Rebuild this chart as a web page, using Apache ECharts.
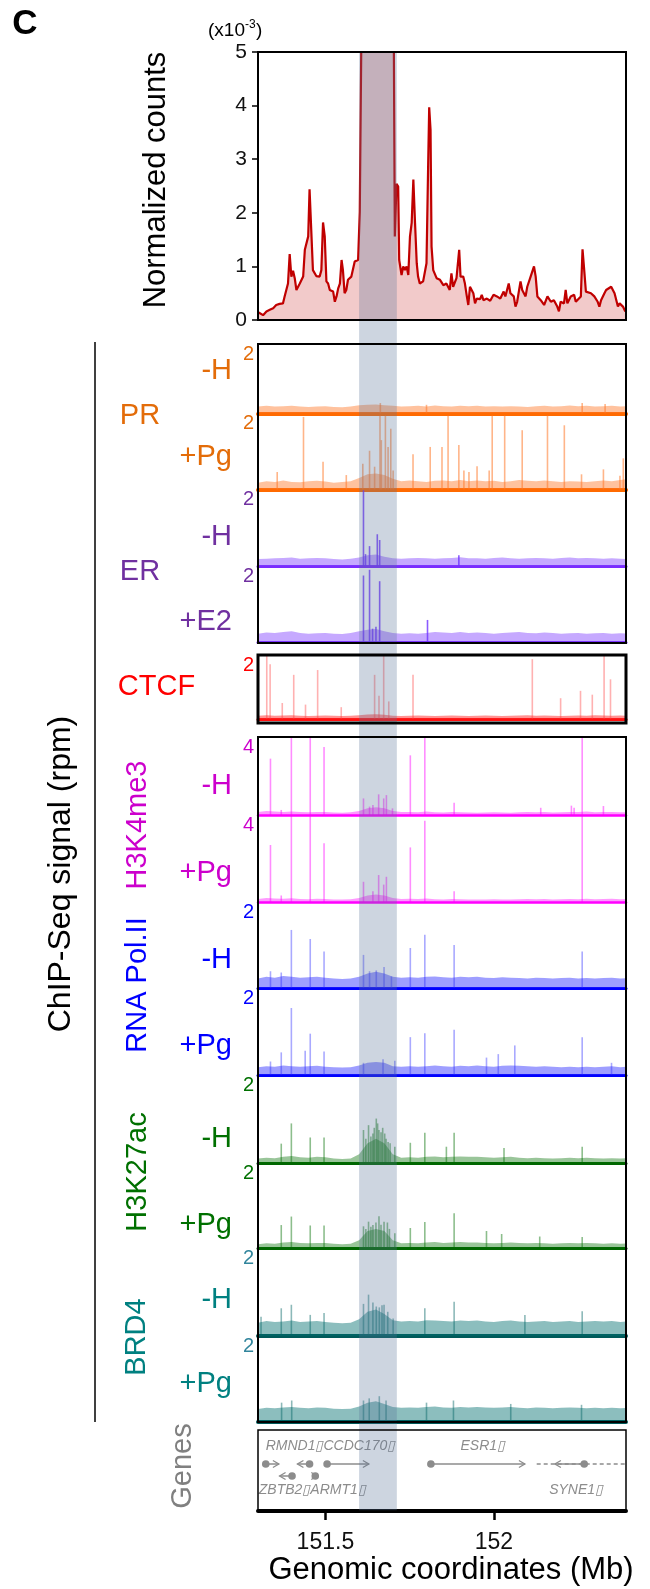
<!DOCTYPE html>
<html><head><meta charset="utf-8">
<script src="https://cdn.jsdelivr.net/npm/echarts@6/dist/echarts.min.js"></script>
<style>html,body{margin:0;padding:0;background:#fff}#c{width:650px;height:1589px}</style>
</head><body><div id="c"></div>
<script>
// ---------------- DATA ----------------
const X_MIN = 151.30, X_MAX = 152.392;
const xTicks = [151.5, 152];
const bandRange = [151.600, 151.712];

// Normalized counts (x10^-3)
const topPos = [151.302,151.315,151.325,151.335,151.345,151.354,151.364,151.374,151.379,151.384,
151.389,151.394,151.399,151.404,151.409,151.414,151.419,151.424,151.429,151.434,
151.439,151.444,151.449,151.453,151.458,151.463,151.473,151.483,151.488,151.493,
151.498,151.503,151.508,151.513,151.523,151.528,151.533,151.538,151.543,151.548,
151.552,151.557,151.562,151.567,151.572,151.577,151.582,151.587,151.592,151.597,
151.602,151.607,151.612,151.650,151.700,151.703,151.706,151.711,151.716,151.719,
151.726,151.731,151.736,151.741,151.746,151.751,151.756,151.761,151.766,151.771,
151.775,151.780,151.790,151.800,151.805,151.808,151.812,151.815,151.820,151.830,
151.840,151.850,151.859,151.869,151.874,151.879,151.889,151.894,151.897,151.901,
151.909,151.914,151.919,151.924,151.929,151.939,151.944,151.949,151.959,151.964,
151.969,151.979,151.989,151.999,152.009,152.019,152.029,152.034,152.044,152.049,
152.059,152.064,152.069,152.079,152.084,152.089,152.094,152.099,152.109,152.119,
152.124,152.129,152.139,152.149,152.159,152.169,152.178,152.188,152.193,152.198,
152.208,152.213,152.218,152.228,152.238,152.243,152.248,152.258,152.263,152.268,
152.273,152.278,152.288,152.298,152.308,152.313,152.318,152.328,152.333,152.338,
152.348,152.353,152.358,152.368,152.373,152.378,152.383,152.390];
const topVal = [0.14,0.09,0.16,0.19,0.22,0.28,0.30,0.31,0.44,0.47,
0.68,1.23,0.81,0.92,0.78,0.56,0.53,0.68,0.70,0.81,
1.31,1.34,1.56,2.44,1.68,0.93,0.82,0.81,0.93,1.82,
1.56,0.72,0.68,0.56,0.53,0.34,0.44,0.59,0.68,1.12,
0.93,0.50,0.56,0.75,0.72,0.81,0.78,1.09,1.07,1.12,
2.02,2.05,9,9,9,9,1.56,2.54,2.49,1.12,
0.84,1.00,0.93,1.00,0.84,1.56,1.81,2.62,1.81,1.06,
0.81,0.68,0.72,1.06,2.93,3.97,3.55,1.37,0.93,0.78,
0.75,0.65,0.68,0.56,0.87,0.62,0.78,0.81,1.31,0.81,
0.81,0.68,0.47,0.28,0.62,0.50,0.31,0.40,0.39,0.47,
0.37,0.40,0.36,0.47,0.44,0.40,0.53,0.44,0.68,0.50,
0.44,0.25,0.34,0.72,0.56,0.56,0.44,0.62,0.81,1.00,
0.81,0.44,0.37,0.28,0.44,0.34,0.37,0.25,0.16,0.34,
0.31,0.56,0.31,0.44,0.47,0.34,0.37,0.44,1.32,0.93,
0.53,0.50,0.50,0.44,0.34,0.25,0.37,0.50,0.56,0.53,
0.62,0.65,0.50,0.25,0.31,0.34,0.25,0.16];

// background signal level of ChIP tracks, sampled every 25 kb
const noiseX = [151.300,151.325,151.350,151.375,151.400,151.425,151.450,151.475,151.500,151.525,
151.550,151.575,151.600,151.625,151.650,151.675,151.700,151.725,151.750,151.775,
151.800,151.825,151.850,151.875,151.900,151.925,151.950,151.975,152.000,152.025,
152.050,152.075,152.100,152.125,152.150,152.175,152.200,152.225,152.250,152.275,
152.300,152.325,152.350,152.375,152.400];
const noisePR_H = [0.20,0.22,0.20,0.21,0.22,0.20,0.19,0.20,0.21,0.19,0.18,0.20,0.24,0.25,0.26,0.24,0.22,0.20,0.21,0.22,0.20,0.23,0.21,0.20,0.22,0.21,0.22,0.20,0.21,0.20,0.21,0.20,0.19,0.21,0.22,0.20,0.21,0.23,0.21,0.22,0.20,0.21,0.22,0.20,0.21];
const noisePR_Pg = [0.18,0.22,0.20,0.24,0.20,0.19,0.22,0.23,0.21,0.18,0.20,0.22,0.30,0.40,0.42,0.38,0.28,0.22,0.24,0.22,0.20,0.23,0.24,0.22,0.25,0.22,0.24,0.22,0.23,0.20,0.22,0.25,0.23,0.22,0.24,0.22,0.20,0.22,0.21,0.20,0.22,0.24,0.22,0.25,0.28];
const noiseER_H = [0.18,0.19,0.20,0.21,0.22,0.19,0.20,0.21,0.20,0.18,0.17,0.19,0.22,0.28,0.30,0.24,0.20,0.19,0.20,0.21,0.20,0.19,0.20,0.21,0.23,0.20,0.20,0.19,0.21,0.22,0.20,0.19,0.20,0.21,0.20,0.19,0.21,0.22,0.20,0.21,0.20,0.19,0.20,0.19,0.18];
const noiseER_E2 = [0.22,0.25,0.24,0.26,0.28,0.24,0.22,0.23,0.24,0.22,0.21,0.24,0.28,0.32,0.34,0.28,0.24,0.22,0.23,0.22,0.24,0.26,0.25,0.24,0.26,0.24,0.25,0.24,0.22,0.24,0.25,0.26,0.24,0.23,0.25,0.24,0.22,0.23,0.24,0.22,0.23,0.24,0.22,0.23,0.22];
const noiseCTCF = [0.10,0.12,0.10,0.11,0.12,0.10,0.09,0.10,0.11,0.10,0.09,0.10,0.12,0.14,0.15,0.13,0.10,0.09,0.10,0.11,0.10,0.09,0.10,0.11,0.10,0.09,0.10,0.11,0.10,0.09,0.10,0.11,0.12,0.10,0.11,0.10,0.09,0.10,0.11,0.10,0.12,0.11,0.10,0.11,0.10];
const noiseK4_H = [0.15,0.20,0.18,0.16,0.18,0.15,0.14,0.16,0.15,0.13,0.12,0.14,0.20,0.35,0.40,0.35,0.20,0.15,0.16,0.14,0.18,0.14,0.13,0.15,0.14,0.13,0.12,0.13,0.14,0.13,0.12,0.14,0.15,0.14,0.16,0.13,0.14,0.16,0.15,0.18,0.14,0.15,0.16,0.14,0.15];
const noiseK4_Pg = [0.14,0.18,0.16,0.15,0.17,0.14,0.13,0.15,0.14,0.12,0.12,0.13,0.18,0.30,0.35,0.30,0.18,0.14,0.15,0.14,0.16,0.13,0.12,0.14,0.13,0.12,0.12,0.12,0.13,0.12,0.12,0.13,0.14,0.13,0.14,0.12,0.13,0.14,0.13,0.15,0.13,0.14,0.15,0.13,0.14];
const noisePol_H = [0.22,0.26,0.24,0.28,0.26,0.24,0.25,0.26,0.24,0.22,0.21,0.22,0.26,0.34,0.38,0.34,0.26,0.24,0.25,0.24,0.26,0.27,0.25,0.24,0.26,0.25,0.26,0.24,0.23,0.25,0.24,0.23,0.22,0.24,0.23,0.22,0.23,0.24,0.22,0.23,0.22,0.23,0.24,0.22,0.23];
const noisePol_Pg = [0.18,0.20,0.19,0.22,0.20,0.19,0.20,0.21,0.19,0.18,0.17,0.18,0.22,0.28,0.30,0.28,0.20,0.19,0.20,0.19,0.20,0.22,0.20,0.19,0.21,0.20,0.22,0.20,0.19,0.21,0.22,0.21,0.20,0.19,0.20,0.19,0.18,0.19,0.18,0.19,0.18,0.19,0.20,0.18,0.19];
const noiseK27_H = [0.10,0.12,0.11,0.14,0.16,0.13,0.12,0.14,0.13,0.10,0.09,0.10,0.20,0.45,0.55,0.45,0.20,0.12,0.13,0.12,0.14,0.15,0.13,0.14,0.15,0.14,0.14,0.13,0.12,0.13,0.14,0.12,0.11,0.12,0.11,0.10,0.11,0.12,0.11,0.12,0.11,0.10,0.11,0.10,0.11];
const noiseK27_Pg = [0.09,0.11,0.10,0.13,0.14,0.12,0.11,0.12,0.12,0.10,0.09,0.10,0.18,0.40,0.45,0.40,0.18,0.11,0.12,0.11,0.13,0.14,0.12,0.13,0.14,0.13,0.13,0.12,0.11,0.12,0.13,0.12,0.11,0.12,0.11,0.10,0.11,0.12,0.11,0.12,0.11,0.10,0.11,0.10,0.11];
const noiseBRD4_H = [0.30,0.34,0.32,0.33,0.35,0.32,0.33,0.34,0.32,0.30,0.29,0.30,0.38,0.55,0.60,0.50,0.36,0.33,0.34,0.33,0.36,0.35,0.34,0.33,0.35,0.34,0.35,0.33,0.32,0.34,0.35,0.33,0.32,0.33,0.34,0.32,0.33,0.34,0.32,0.33,0.34,0.33,0.34,0.32,0.33];
const noiseBRD4_Pg = [0.30,0.33,0.32,0.34,0.35,0.33,0.32,0.34,0.33,0.31,0.30,0.31,0.36,0.45,0.48,0.42,0.35,0.33,0.34,0.33,0.35,0.36,0.34,0.33,0.35,0.34,0.35,0.34,0.33,0.34,0.35,0.33,0.32,0.34,0.33,0.32,0.33,0.34,0.33,0.32,0.33,0.32,0.33,0.32,0.33];

// peaks: [position Mb, rpm]
const peaksPR_H = [[151.663,0.30],[151.800,0.25],[152.262,0.30],[152.330,0.27]];
const peaksPR_Pg = [[151.357,0.46],[151.435,1.91],[151.493,0.73],[151.562,0.38],[151.611,0.68],[151.631,1.02],[151.646,0.60],[151.662,1.95],[151.666,1.30],[151.678,1.95],[151.686,1.12],[151.694,1.60],[151.701,0.50],[151.760,0.93],[151.811,1.12],[151.846,1.12],[151.864,1.95],[151.896,1.17],[151.911,0.50],[151.926,0.46],[151.950,0.61],[151.986,0.50],[151.995,1.95],[152.032,1.95],[152.084,1.56],[152.159,1.95],[152.209,1.69],[152.260,0.40],[152.325,0.53],[152.374,0.36],[152.384,0.82]];
const peaksER_H = [[151.613,1.98],[151.619,0.31],[151.631,0.52],[151.654,0.83],[151.661,0.68],[151.896,0.28]];
const peaksER_E2 = [[151.613,1.75],[151.631,1.90],[151.640,0.35],[151.650,0.40],[151.661,1.60],[151.803,0.58]];
const peaksCTCF = [[151.326,1.97],[151.336,1.71],[151.372,0.50],[151.406,1.38],[151.441,0.45],[151.477,1.53],[151.547,0.37],[151.646,1.38],[151.659,0.73],[151.673,1.97],[151.688,0.55],[151.760,1.38],[152.114,1.87],[152.198,0.65],[152.257,0.88],[152.292,0.76],[152.327,1.97],[152.346,1.24]];
const peaksK4_H = [[151.337,2.89],[151.369,0.26],[151.399,4],[151.455,4],[151.496,3.49],[151.613,0.85],[151.631,0.43],[151.641,0.51],[151.658,1.06],[151.673,0.85],[151.681,1.02],[151.699,0.34],[151.752,3.06],[151.795,4],[151.882,0.63],[152.139,0.37],[152.230,0.48],[152.238,0.37],[152.262,4],[152.325,0.46]];
const peaksK4_Pg = [[151.337,2.62],[151.369,0.30],[151.399,4],[151.455,4],[151.496,2.70],[151.613,0.93],[151.641,0.50],[151.658,1.24],[151.673,0.80],[151.681,1.16],[151.752,2.51],[151.795,3.74],[151.882,0.50],[152.262,4]];
const peaksPol_H = [[151.337,0.39],[151.369,0.36],[151.399,1.35],[151.455,1.14],[151.496,0.85],[151.613,0.77],[151.631,0.39],[151.651,0.41],[151.674,0.49],[151.696,0.27],[151.752,0.93],[151.795,1.24],[151.882,1.00],[152.262,0.85]];
const peaksPol_Pg = [[151.337,0.31],[151.369,0.52],[151.399,1.54],[151.440,0.56],[151.455,0.95],[151.496,0.54],[151.613,0.28],[151.671,0.36],[151.706,0.33],[151.752,0.87],[151.795,0.96],[151.882,1.04],[151.978,0.40],[152.013,0.48],[152.062,0.68],[152.262,0.87],[152.349,0.28]];
const peaksK27_H = [[151.369,0.44],[151.399,0.90],[151.455,0.58],[151.496,0.58],[151.613,0.75],[151.620,0.55],[151.628,0.86],[151.635,0.60],[151.641,0.67],[151.645,0.80],[151.651,1.01],[151.655,0.90],[151.659,0.75],[151.665,0.70],[151.670,0.80],[151.676,0.67],[151.680,0.55],[151.686,0.48],[151.692,0.45],[151.706,0.37],[151.752,0.46],[151.795,0.69],[151.859,0.37],[151.882,0.69],[152.030,0.34],[152.262,0.37]];
const peaksK27_Pg = [[151.369,0.54],[151.399,0.74],[151.455,0.53],[151.496,0.53],[151.613,0.51],[151.620,0.45],[151.628,0.62],[151.635,0.50],[151.641,0.54],[151.650,0.60],[151.659,0.75],[151.665,0.55],[151.674,0.62],[151.684,0.60],[151.690,0.45],[151.706,0.35],[151.752,0.47],[151.795,0.61],[151.882,0.82],[151.978,0.40],[152.023,0.33],[152.136,0.27],[152.262,0.26]];
const peaksBRD4_H = [[151.309,0.44],[151.369,0.63],[151.399,0.71],[151.455,0.48],[151.496,0.52],[151.613,0.73],[151.628,0.94],[151.641,0.76],[151.651,0.67],[151.660,0.65],[151.668,0.70],[151.674,0.71],[151.685,0.55],[151.701,0.40],[151.795,0.63],[151.882,0.78],[152.092,0.48],[152.262,0.56]];
const peaksBRD4_Pg = [[151.370,0.45],[151.400,0.50],[151.613,0.50],[151.630,0.55],[151.660,0.60],[151.680,0.50],[151.800,0.45],[151.880,0.50],[152.050,0.42],[152.260,0.40]];

// genes: tss, end (arrow), lane, optional dashed extent
const genes = [
  {tss:151.323, end:151.362, lane:0},
  {tss:151.453, end:151.417, lane:0},
  {tss:151.505, end:151.629, lane:0},
  {tss:151.813, end:152.092, lane:0},
  {tss:152.268, end:152.181, lane:0, dash:[152.127, 152.392]},
  {tss:151.401, end:151.364, lane:1},
  {tss:151.470, end:151.476, lane:1}
];
const geneLabels = [
  {text:'RMND1\u25AFCCDC170\u25AF', x:151.515, lane:0},
  {text:'ESR1\u25AF', x:151.967, lane:0},
  {text:'ZBTB2\u25AFARMT1\u25AF', x:151.461, lane:1},
  {text:'SYNE1\u25AF', x:152.244, lane:1}
];

// ---------------- STYLE / LAYOUT ----------------
const FONT = '"Liberation Sans", Arial, Helvetica, sans-serif';
const LEFT = 258, WIDTH = 368;
const tracks = [
  {top:344,  h:69.5, max:2, noise:noisePR_H,   peaks:peaksPR_H,   lab:'#e36c09', core:'#ff6a00', coreW:4, fuzz:'rgba(255,120,40,0.45)', peak:'rgba(255,120,40,0.55)'},
  {top:413.5,h:76,   max:2, noise:noisePR_Pg,  peaks:peaksPR_Pg,  lab:'#e36c09', core:'#ff6a00', coreW:4, fuzz:'rgba(255,120,40,0.45)', peak:'rgba(255,120,40,0.55)'},
  {top:489.5,h:76.5, max:2, noise:noiseER_H,   peaks:peaksER_H,   lab:'#7030a0', core:'#7a2cff', coreW:3, fuzz:'rgba(128,64,255,0.45)', peak:'rgba(110,50,255,0.8)'},
  {top:566,  h:76,   max:2, noise:noiseER_E2,  peaks:peaksER_E2,  lab:'#7030a0', core:'#7a2cff', coreW:3, fuzz:'rgba(128,64,255,0.45)', peak:'rgba(110,50,255,0.8)'},
  {top:655,  h:64,   max:2, noise:noiseCTCF,   peaks:peaksCTCF,   lab:'#ff0000', core:'#ff1010', coreW:3, fuzz:'rgba(255,40,40,0.5)',  peak:'rgba(255,60,60,0.4)'},
  {top:737,  h:78,   max:4, noise:noiseK4_H,   peaks:peaksK4_H,   lab:'#cc00cc', core:'#ff00ff', coreW:2.5, fuzz:'rgba(255,0,255,0.4)', peak:'rgba(255,0,255,0.45)'},
  {top:815,  h:87,   max:4, noise:noiseK4_Pg,  peaks:peaksK4_Pg,  lab:'#cc00cc', core:'#ff00ff', coreW:2.5, fuzz:'rgba(255,0,255,0.4)', peak:'rgba(255,0,255,0.45)'},
  {top:902,  h:86,   max:2, noise:noisePol_H,  peaks:peaksPol_H,  lab:'#0000ff', core:'#0000ff', coreW:3, fuzz:'rgba(40,40,255,0.45)', peak:'rgba(40,40,255,0.4)'},
  {top:988,  h:87,   max:2, noise:noisePol_Pg, peaks:peaksPol_Pg, lab:'#0000ff', core:'#0000ff', coreW:3, fuzz:'rgba(40,40,255,0.45)', peak:'rgba(40,40,255,0.4)'},
  {top:1075, h:88,   max:2, noise:noiseK27_H,  peaks:peaksK27_H,  lab:'#007000', core:'#006600', coreW:3, fuzz:'rgba(0,110,0,0.4)',    peak:'rgba(0,110,0,0.45)'},
  {top:1163, h:85,   max:2, noise:noiseK27_Pg, peaks:peaksK27_Pg, lab:'#007000', core:'#006600', coreW:3, fuzz:'rgba(0,110,0,0.4)',    peak:'rgba(0,110,0,0.45)'},
  {top:1248, h:88,   max:2, noise:noiseBRD4_H, peaks:peaksBRD4_H, lab:'#31859c', core:'#005a5a', coreW:4, fuzz:'rgba(0,110,110,0.45)', peak:'rgba(0,100,100,0.45)'},
  {top:1336, h:86,   max:2, noise:noiseBRD4_Pg,peaks:peaksBRD4_Pg,lab:'#31859c', core:'#005a5a', coreW:4, fuzz:'rgba(0,110,110,0.45)', peak:'rgba(0,100,100,0.45)'}
];

const option = {
  animation: false,
  backgroundColor: '#ffffff',
  textStyle: {fontFamily: FONT},
  grid: [], xAxis: [], yAxis: [], series: []
};

// top plot
option.grid.push({left:LEFT, top:52, width:WIDTH, height:268});
option.xAxis.push({type:'value', gridIndex:0, min:X_MIN, max:X_MAX, show:false});
option.yAxis.push({type:'value', gridIndex:0, min:0, max:5, interval:1,
  axisLine:{show:true, lineStyle:{color:'#000', width:2}},
  axisTick:{show:true, length:6, lineStyle:{color:'#000', width:1.5}},
  axisLabel:{fontSize:21, color:'#111', margin:11, fontFamily:FONT},
  splitLine:{show:false}});
option.series.push({type:'line', xAxisIndex:0, yAxisIndex:0,
  data: topPos.map((x,i)=>[x, topVal[i]]), symbol:'none', clip:true,
  lineStyle:{color:'#c00000', width:2.2}, areaStyle:{color:'#f2caca', opacity:1}});

// tracks
tracks.forEach((t, k) => {
  const gi = k + 1;
  option.grid.push({left:LEFT, top:t.top, width:WIDTH, height:t.h});
  option.xAxis.push({type:'value', gridIndex:gi, min:X_MIN, max:X_MAX,
    axisLine:{show:true, onZero:false, lineStyle:{color:t.core, width:t.coreW}},
    axisTick:{show:false}, axisLabel:{show:false}, splitLine:{show:false}});
  option.yAxis.push({type:'value', gridIndex:gi, min:0, max:t.max, interval:t.max,
    axisLine:{show:false}, axisTick:{show:false}, splitLine:{show:false},
    axisLabel:{show:true, color:t.lab, fontSize:20, margin:4, verticalAlign:'top', fontFamily:FONT,
      formatter: v => (v === t.max ? String(t.max) : '')}});
  option.series.push({type:'line', xAxisIndex:gi, yAxisIndex:gi, symbol:'none', clip:true,
    data: noiseX.map((x,i)=>[x, t.noise[i]]),
    lineStyle:{opacity:0, width:0}, areaStyle:{color:t.fuzz, opacity:1}, z:2});
  option.series.push({type:'bar', xAxisIndex:gi, yAxisIndex:gi, barWidth:1.6, clip:true,
    data: t.peaks, itemStyle:{color:t.peak}, z:3});
});

// genes panel
const GI = tracks.length + 1;
const GC = '#8c8c8c';
const laneY = [34, 46];
const labelY = [16, 60];
option.grid.push({left:LEFT, top:1430, width:WIDTH, height:81});
option.xAxis.push({type:'value', gridIndex:GI, min:X_MIN, max:X_MAX, position:'bottom', offset:7,
  axisLine:{show:true, lineStyle:{color:'#000', width:4}},
  axisTick:{show:true, customValues:xTicks, length:9, lineStyle:{color:'#000', width:2.5}},
  axisLabel:{show:true, customValues:xTicks, fontSize:23, color:'#111', margin:13, fontFamily:FONT,
    formatter: v => String(v)},
  splitLine:{show:false}});
option.yAxis.push({type:'value', gridIndex:GI, min:0, max:1, show:false});
option.series.push({type:'custom', xAxisIndex:GI, yAxisIndex:GI,
  data: genes.map(g => [g.tss, 0]),
  renderItem: (params, api) => {
    const g = genes[params.dataIndex];
    const cs = params.coordSys;
    const y = cs.y + laneY[g.lane];
    const x1 = api.coord([g.tss, 0])[0], x2 = api.coord([g.end, 0])[0];
    const dir = x2 >= x1 ? 1 : -1;
    const ch = [];
    if (g.dash) {
      const d0 = api.coord([g.dash[0], 0])[0];
      const d1 = Math.min(api.coord([g.dash[1], 0])[0], cs.x + cs.width);
      ch.push({type:'line', shape:{x1:d0, y1:y, x2:d1, y2:y}, style:{stroke:GC, lineWidth:1.3, lineDash:[4,3]}});
    }
    ch.push({type:'line', shape:{x1:x1, y1:y, x2:x2, y2:y}, style:{stroke:GC, lineWidth:1.5}});
    ch.push({type:'polyline', shape:{points:[[x2-dir*6, y-3.5],[x2, y],[x2-dir*6, y+3.5]]}, style:{stroke:GC, fill:null, lineWidth:1.3}});
    ch.push({type:'circle', shape:{cx:x1, cy:y, r:3.8}, style:{fill:GC}});
    return {type:'group', children:ch};
  }});
option.series.push({type:'custom', xAxisIndex:GI, yAxisIndex:GI,
  data: geneLabels.map(l => [l.x, 0]),
  renderItem: (params, api) => {
    const l = geneLabels[params.dataIndex];
    const cs = params.coordSys;
    return {type:'text', x: api.coord([l.x, 0])[0], y: cs.y + labelY[l.lane],
      style:{text:l.text, fill:'#8c8c8c', fontSize:14, fontStyle:'italic', fontFamily:FONT, align:'center', verticalAlign:'middle'}};
  }});

const chart = echarts.init(document.getElementById('c'), null, {renderer:'canvas'});
chart.setOption(option);

// ---------- annotations ----------
function txt(text, x, y, size, color, opts) {
  opts = opts || {};
  return {type:'text', x:x, y:y, rotation: opts.rot || 0, z:60,
    style:{text:text, fill:color, fontSize:size, fontFamily:FONT, fontWeight: opts.bold ? 'bold' : 'normal',
      align: opts.align || 'center', verticalAlign:'middle'}};
}
function box(x0, y0, x1, y1, w) {
  return {type:'rect', z:60, shape:{x:x0, y:y0, width:x1-x0, height:y1-y0}, style:{fill:null, stroke:'#000', lineWidth:w}};
}
const R = Math.PI / 2;
const els = [];
els.push(txt('C', 25, 24, 35, '#000', {bold:true}));
els.push(txt('(x10', 208, 31, 19, '#000', {align:'left'}));
els.push(txt('-3', 245, 25, 12, '#000', {align:'left'}));
els.push(txt(')', 256, 31, 19, '#000', {align:'left'}));
els.push(txt('Normalized counts', 156, 180, 31, '#000', {rot:R}));
els.push(txt('ChIP-Seq signal (rpm)', 61, 874, 32, '#000', {rot:R}));
els.push({type:'line', z:60, shape:{x1:95, y1:342, x2:95, y2:1422}, style:{stroke:'#000', lineWidth:1.5}});
// group labels
els.push(txt('PR', 140, 416, 29, '#e36c09'));
els.push(txt('ER', 140, 572, 29, '#7030a0'));
els.push(txt('CTCF', 156.5, 687, 29, '#ff0000'));
els.push(txt('H3K4me3', 138, 825, 29, '#cc00cc', {rot:R}));
els.push(txt('RNA Pol.II', 138, 985, 29, '#0000ff', {rot:R}));
els.push(txt('H3K27ac', 138, 1172, 29, '#007000', {rot:R}));
els.push(txt('BRD4', 137, 1337, 29, '#008080', {rot:R}));
els.push(txt('Genes', 183, 1466, 29, '#808080', {rot:R}));
// condition labels
const subs = [['-H',371,'#e36c09'],['+Pg',457,'#e36c09'],['-H',537,'#7030a0'],['+E2',622,'#7030a0'],
  ['-H',786,'#cc00cc'],['+Pg',873,'#cc00cc'],['-H',960,'#0000ff'],['+Pg',1046,'#0000ff'],
  ['-H',1139,'#007000'],['+Pg',1225,'#007000'],['-H',1300,'#008080'],['+Pg',1384,'#008080']];
subs.forEach(s => els.push(txt(s[0], 232, s[1], 29, s[2], {align:'right'})));
// frames
els.push(box(LEFT, 52, LEFT+WIDTH, 320, 2));
els.push(box(LEFT, 344, LEFT+WIDTH, 643, 2));
els.push(box(LEFT, 655, LEFT+WIDTH, 723, 3));
els.push(box(LEFT, 737, LEFT+WIDTH, 1422, 2));
els.push(box(LEFT, 1430, LEFT+WIDTH, 1511, 1.5));
els.push(txt('Genomic coordinates (Mb)', 451, 1570, 31, '#000'));
// highlighted region
const bx0 = chart.convertToPixel({xAxisIndex:0}, bandRange[0]);
const bx1 = chart.convertToPixel({xAxisIndex:0}, bandRange[1]);
els.push({type:'rect', z:50, shape:{x:bx0, y:52, width:bx1-bx0, height:1511-52}, style:{fill:'rgba(91,115,153,0.3)'}});
chart.setOption({graphic:{elements:els}});
</script></body></html>
